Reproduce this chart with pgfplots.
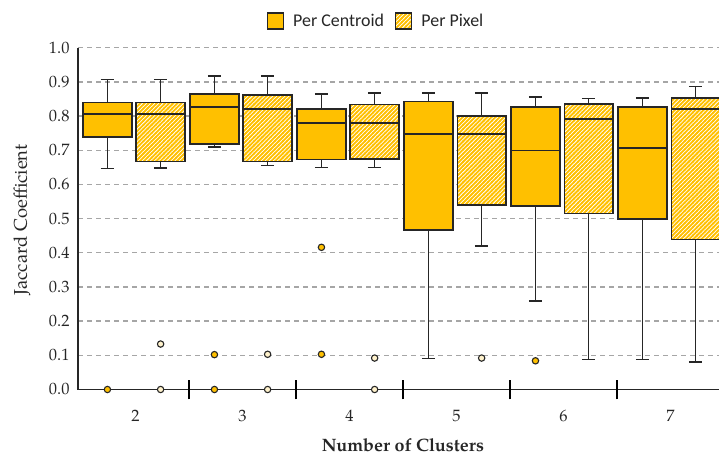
\documentclass[border=0pt]{standalone}
\usepackage{fontspec}
\setmainfont{TeX Gyre Pagella}
\setsansfont{Carlito}
\usepackage{pgfplots}
\pgfplotsset{compat=1.18}
\usetikzlibrary{patterns}
\definecolor{gold}{HTML}{FFC000}
\definecolor{edge}{HTML}{262626}
\definecolor{gridc}{HTML}{A6A6A6}
\pgfdeclarepatternformonly{hatch}{\pgfqpoint{-1bp}{-1bp}}{\pgfqpoint{5bp}{5bp}}{\pgfqpoint{4.1bp}{4.1bp}}{%
  \pgfsetlinewidth{1.8bp}%
  \pgfpathmoveto{\pgfqpoint{-0.5bp}{-0.5bp}}%
  \pgfpathlineto{\pgfqpoint{4.6bp}{4.6bp}}%
  \pgfusepath{stroke}%
}
\pgfplotsset{
  whisk/.style={draw=edge, line width=1.6bp, mark=none, forget plot},
  boxC/.style={draw=edge, line width=1.6bp, fill=gold, mark=none, forget plot},
  boxW/.style={draw=none, fill=white, mark=none, forget plot},
  boxP/.style={draw=edge, line width=1.6bp, pattern=hatch, pattern color=gold, mark=none, forget plot},
  outC/.style={only marks, mark=*, mark size=3.2bp, mark options={fill=gold, draw=edge, line width=1.1bp}, forget plot},
  outP/.style={only marks, mark=*, mark size=3.2bp, mark options={fill=gold!20!white, draw=edge, line width=1.1bp}, forget plot},
}
% #1 = C or P, #2 = position, #3 lower whisker, #4 Q1, #5 median, #6 Q3, #7 upper whisker
\newcommand\bx[7]{%
  \pgfmathsetmacro\xa{#2-0.2275}\pgfmathsetmacro\xb{#2+0.2275}%
  \pgfmathsetmacro\ca{#2-0.0625}\pgfmathsetmacro\cb{#2+0.0625}%
  \addplot[whisk] coordinates {(#2,#6) (#2,#7)};
  \addplot[whisk] coordinates {(\ca,#7) (\cb,#7)};
  \addplot[whisk] coordinates {(#2,#4) (#2,#3)};
  \addplot[whisk] coordinates {(\ca,#3) (\cb,#3)};
  \if#1P\addplot[boxW] coordinates {(\xa,#4) (\xb,#4) (\xb,#6) (\xa,#6)} -- cycle;\fi
  \addplot[box#1] coordinates {(\xa,#4) (\xb,#4) (\xb,#6) (\xa,#6)} -- cycle;
  \addplot[whisk] coordinates {(\xa,#5) (\xb,#5)};
}
\begin{document}
\begin{tikzpicture}
\path[use as bounding box] (0bp,0bp) rectangle (719bp,461bp);
\begin{axis}[
  at={(78bp,71.5bp)}, anchor=south west,
  width=641bp, height=341.8bp, scale only axis,
  xmin=-0.537, xmax=5.453, ymin=0, ymax=1,
  axis x line*=bottom, axis y line*=left,
  axis line style={-, line width=1.4bp, draw=edge},
  xtick={0,1,2,3,4,5}, xticklabels={2,3,4,5,6,7},
  major x tick style={draw=none},
  extra x ticks={0.5,1.5,2.5,3.5,4.5}, extra x tick labels={},
  extra x tick style={major tick length=20bp, tick align=center,
     major x tick style={draw=black, line width=1.4bp}},
  ytick={0,0.1,...,1.0},
  major y tick style={draw=none},
  ymajorgrids, major grid style={gridc, line width=1.3bp, dash pattern=on 5bp off 4bp},
  /pgf/number format/assume math mode=true,
  yticklabel style={/pgf/number format/fixed, /pgf/number format/fixed zerofill,
     /pgf/number format/precision=1, xshift=-5bp},
  xticklabel style={yshift=-17bp},
  tick label style={font=\fontsize{16.5}{18}\selectfont, text=black!85},
  xlabel={\bfseries Number of Clusters},
  ylabel={Jaccard Coefficient},
  label style={font=\fontsize{18.5}{20}\selectfont, text=black!85},
  xlabel style={font=\fontsize{18}{20}\selectfont, at={(axis description cs:0.507,0)}, anchor=north, yshift=-46bp},
  ylabel style={at={(axis description cs:-0.0874,0.496)}, anchor=center},
  legend columns=2,
  legend style={at={(axis description cs:0.465,1.078)}, anchor=center, draw=none,
     fill=none, font=\sffamily\fontsize{18}{20}\selectfont, text=black!85,
     /tikz/every odd column/.append style={column sep=7bp},
     /tikz/every even column/.append style={column sep=9bp}},
  legend cell align=left,
]
\addlegendimage{legend image code/.code={\draw[fill=gold,draw=edge,line width=1.4bp] (0bp,-8bp) rectangle (16bp,8bp);}}
\addlegendentry{Per Centroid}
\addlegendimage{legend image code/.code={\fill[white] (0bp,-8bp) rectangle (16bp,8bp);
   \draw[pattern=hatch, pattern color=gold, draw=edge, line width=1.4bp] (0bp,-8bp) rectangle (16bp,8bp);}}
\addlegendentry{Per Pixel}

% Per Centroid: position, lower whisker, Q1, median, Q3, upper whisker
\bx{C}{-0.262}{0.647}{0.738}{0.806}{0.840}{0.907}
\bx{C}{0.738}{0.710}{0.719}{0.827}{0.865}{0.917}
\bx{C}{1.738}{0.650}{0.673}{0.779}{0.820}{0.865}
\bx{C}{2.738}{0.091}{0.467}{0.748}{0.843}{0.868}
\bx{C}{3.738}{0.259}{0.536}{0.699}{0.826}{0.855}
\bx{C}{4.738}{0.088}{0.498}{0.707}{0.826}{0.852}

% Per Pixel
\bx{P}{0.235}{0.648}{0.667}{0.806}{0.840}{0.907}
\bx{P}{1.235}{0.655}{0.667}{0.821}{0.862}{0.917}
\bx{P}{2.235}{0.650}{0.674}{0.779}{0.834}{0.867}
\bx{P}{3.235}{0.420}{0.539}{0.748}{0.800}{0.868}
\bx{P}{4.235}{0.088}{0.515}{0.792}{0.835}{0.851}
\bx{P}{5.235}{0.081}{0.439}{0.821}{0.852}{0.887}

% outliers
\addplot[outC] coordinates {(-0.262,0.0) (0.738,0.102) (0.738,0.0) (1.738,0.416) (1.738,0.103) (3.738,0.084)};
\addplot[outP] coordinates {(0.235,0.133) (0.235,0.0) (1.235,0.103) (1.235,0.0) (2.235,0.092) (2.235,0.0) (3.235,0.092)};
\end{axis}
\end{tikzpicture}
\end{document}
